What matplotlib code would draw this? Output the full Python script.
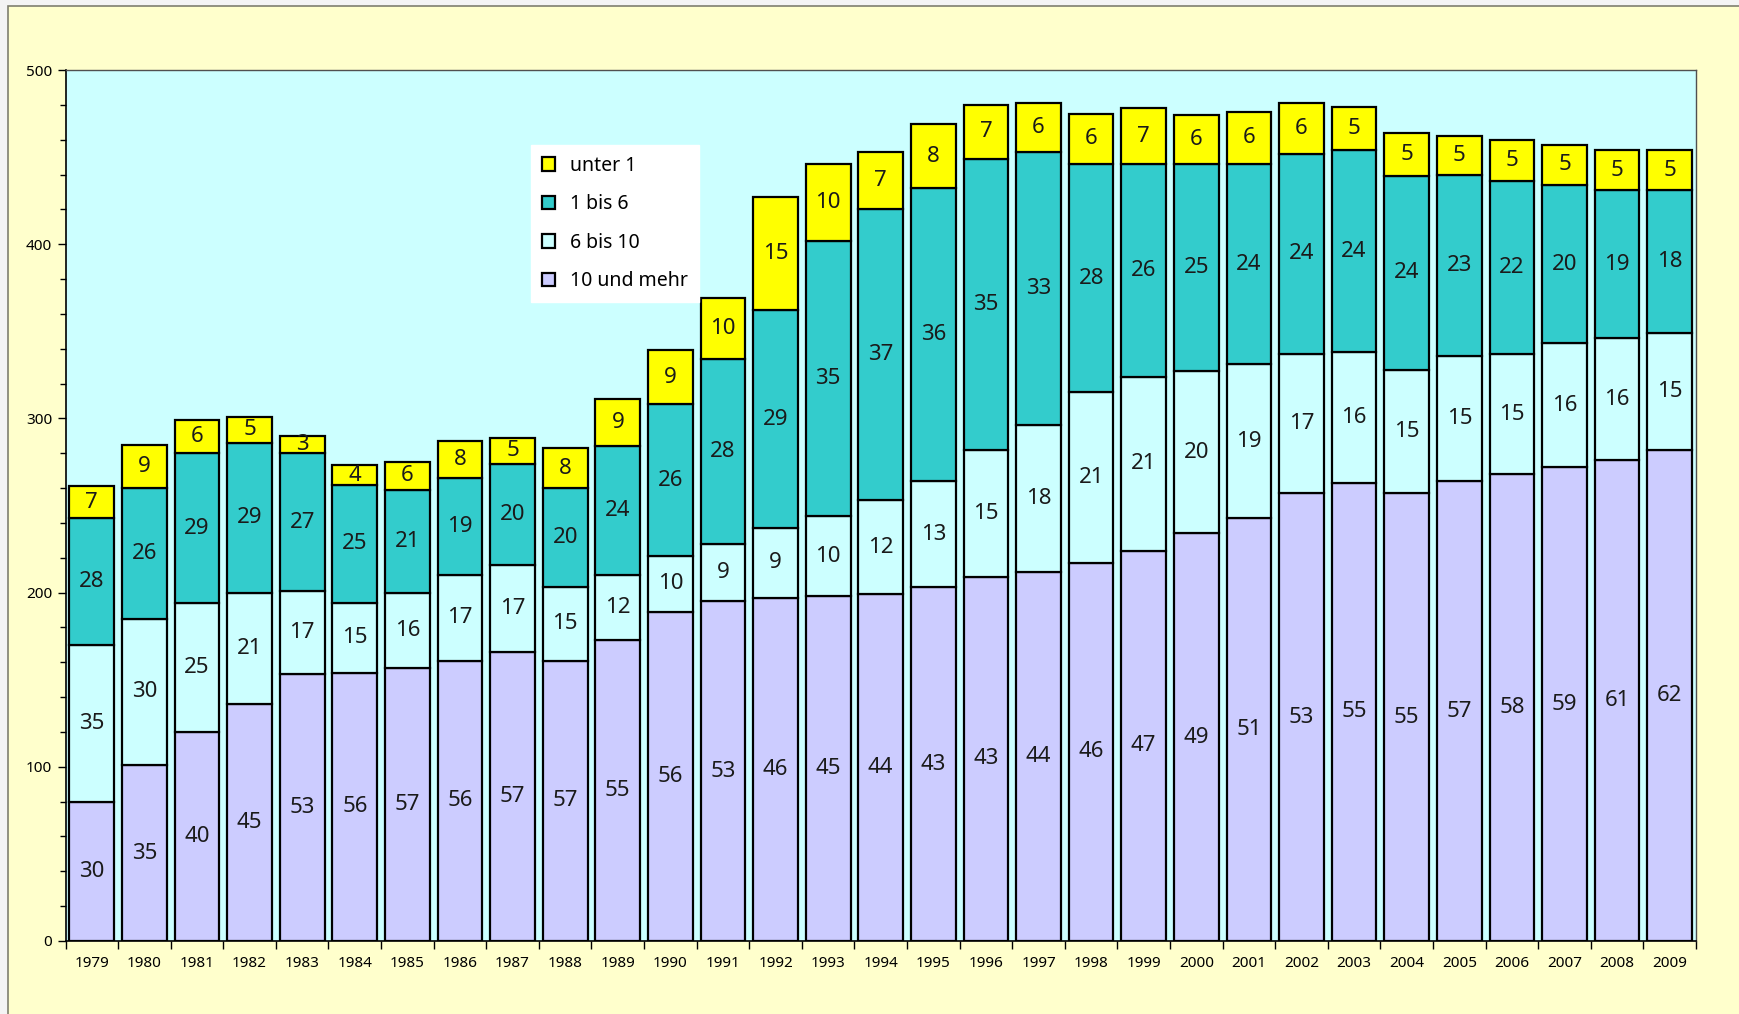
import matplotlib.pyplot as plt
import matplotlib.patches as mpatches
import numpy as np

years = [str(y) for y in range(1979, 2010)]

# absolute segment heights
mehr10 = [80, 101, 120, 136, 153, 154, 157, 161, 166, 161, 173, 189, 195, 197, 198, 199,
          203, 209, 212, 217, 224, 234, 243, 257, 263, 257, 264, 268, 272, 276, 282]
bis10 = [90, 84, 74, 64, 48, 40, 43, 49, 50, 42, 37, 32, 33, 40, 46, 54,
         61, 73, 84, 98, 100, 93, 88, 80, 75, 71, 72, 69, 71, 70, 67]
bis6 = [73, 75, 86, 86, 79, 68, 59, 56, 58, 57, 74, 87, 106, 125, 158, 167,
        168, 167, 157, 131, 122, 119, 115, 115, 116, 111, 104, 99, 91, 85, 82]
unter1 = [18, 25, 19, 15, 10, 11, 16, 21, 15, 23, 27, 31, 35, 65, 44, 33,
          37, 31, 28, 29, 32, 28, 30, 29, 25, 25, 22, 24, 23, 23, 23]

# percentage labels shown in the segments
pct_mehr10 = [30, 35, 40, 45, 53, 56, 57, 56, 57, 57, 55, 56, 53, 46, 45, 44,
              43, 43, 44, 46, 47, 49, 51, 53, 55, 55, 57, 58, 59, 61, 62]
pct_bis10 = [35, 30, 25, 21, 17, 15, 16, 17, 17, 15, 12, 10, 9, 9, 10, 12,
             13, 15, 18, 21, 21, 20, 19, 17, 16, 15, 15, 15, 16, 16, 15]
pct_bis6 = [28, 26, 29, 29, 27, 25, 21, 19, 20, 20, 24, 26, 28, 29, 35, 37,
            36, 35, 33, 28, 26, 25, 24, 24, 24, 24, 23, 22, 20, 19, 18]
pct_unter1 = [7, 9, 6, 5, 3, 4, 6, 8, 5, 8, 9, 9, 10, 15, 10, 7,
              8, 7, 6, 6, 7, 6, 6, 6, 5, 5, 5, 5, 5, 5, 5]

plt.rcParams['font.family'] = ['Noto Sans', 'DejaVu Sans']

fig = plt.figure(figsize=(17.4, 10.14), dpi=100, facecolor='#f4f4f4')
# chart area frame (partially cut off at right/bottom)
fig.patches.append(mpatches.Rectangle((8 / 1740, -0.01), 1.0, 1 - 6 / 1014 + 0.01,
                                      transform=fig.transFigure, facecolor='#ffffcc',
                                      edgecolor='#7f7f6f', linewidth=1.2, zorder=-1))

ax = fig.add_axes([65.5 / 1740, 73 / 1014, (1696 - 65.5) / 1740, (941 - 70) / 1014])
ax.set_facecolor('#ccffff')

x = np.arange(len(years))
w = 0.85
series = [
    (mehr10, pct_mehr10, '#ccccff', '10 und mehr'),
    (bis10, pct_bis10, '#ccffff', '6 bis 10'),
    (bis6, pct_bis6, '#33cccc', '1 bis 6'),
    (unter1, pct_unter1, '#ffff00', 'unter 1'),
]
bottom = np.zeros(len(years))
handles = []
for vals, pcts, col, lab in series:
    vals = np.array(vals, dtype=float)
    bars = ax.bar(x, vals, w, bottom=bottom, color=col, edgecolor='black',
                  linewidth=1.6, label=lab, zorder=2)
    handles.append(bars)
    for xi, b, v, p in zip(x, bottom, vals, pcts):
        ax.text(xi, b + v / 2, str(p), ha='center', va='center',
                fontsize=16, color='#1a1a1a', zorder=3)
    bottom += vals

ax.set_xlim(-0.5, len(years) - 0.5)
ax.set_ylim(0, 500)
ax.set_yticks(range(0, 501, 100))
ax.set_yticks(range(0, 501, 20), minor=True)
ax.tick_params(axis='y', which='major', length=6, width=1, labelsize=11, colors='black')
ax.tick_params(axis='y', which='minor', length=4, width=1)

ax.set_xticks(np.arange(-0.5, len(years), 1.0))
ax.set_xticklabels([])
ax.set_xticks(x, minor=True)
ax.set_xticklabels(years, minor=True, fontsize=11)
ax.tick_params(axis='x', which='major', length=6, width=1, direction='out')
ax.tick_params(axis='x', which='minor', length=0, pad=11)

for s in ['left', 'bottom']:
    ax.spines[s].set_color('black')
    ax.spines[s].set_linewidth(1.2)
for s in ['top', 'right']:
    ax.spines[s].set_color('#505050')
    ax.spines[s].set_linewidth(1.0)

leg = ax.legend(handles=handles[::-1], labels=[s[3] for s in series][::-1],
                loc='upper left', bbox_to_anchor=(531 / 1740, 1 - 145 / 1014),
                bbox_transform=fig.transFigure, borderaxespad=0, fontsize=14,
                frameon=True, fancybox=False, framealpha=1, facecolor='white',
                edgecolor='white', handlelength=0.7, handleheight=0.7,
                handletextpad=0.75, labelspacing=0.95, borderpad=0.55)
leg.set_zorder(5)

fig.savefig('out.png', dpi=100, facecolor=fig.get_facecolor())
